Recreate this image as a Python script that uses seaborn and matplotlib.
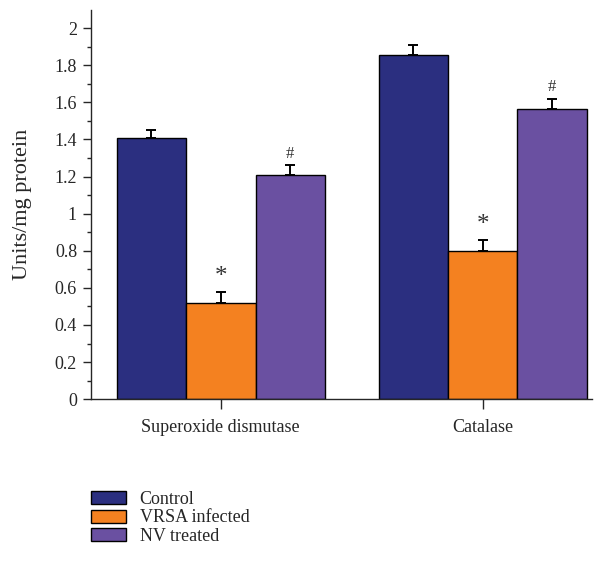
import matplotlib
matplotlib.use("Agg")
import matplotlib.pyplot as plt
import seaborn as sns
import pandas as pd
import numpy as np
from matplotlib.patches import Patch
from matplotlib.ticker import MultipleLocator

categories = ["Superoxide dismutase", "Catalase"]
groups = ["Control", "VRSA infected", "NV treated"]
control = [1.41, 1.855]
vrsa = [0.52, 0.80]
nv = [1.21, 1.565]
control_err = [0.04, 0.055]
vrsa_err = [0.06, 0.06]
nv_err = [0.05, 0.055]
marks = ["", "*", "#"]
colors = ["#2b2f80", "#f48120", "#6a50a1"]

rows = []
for g, vals, errs in zip(groups, [control, vrsa, nv], [control_err, vrsa_err, nv_err]):
    for c, v, e in zip(categories, vals, errs):
        rows.append({"cat": c, "group": g, "val": v, "err": e})
df = pd.DataFrame(rows)

sns.set_style("ticks")
plt.rcParams["font.family"] = ["Liberation Serif", "DejaVu Serif"]

fig = plt.figure(figsize=(6.1, 5.67), dpi=100)
ax = fig.add_axes([0.149, 0.296, 0.821, 0.686])

sns.barplot(data=df, x="cat", y="val", hue="group", order=categories, hue_order=groups,
            palette=colors, width=0.795, errorbar=None, edgecolor="black", linewidth=1,
            saturation=1, ax=ax, legend=False)

for gi, g in enumerate(groups):
    cont = ax.containers[gi]
    sub = df[df.group == g].set_index("cat").loc[categories]
    for bar, v, e in zip(cont.patches, sub.val, sub.err):
        xc = bar.get_x() + bar.get_width() / 2
        ax.errorbar(xc, v, yerr=[[0], [e]], fmt="none", ecolor="black", elinewidth=1.4,
                    capsize=3.5, capthick=1.4)
        if marks[gi]:
            fs = 18 if marks[gi] == "*" else 12
            ax.text(xc, v + e + 0.02, marks[gi], ha="center", va="bottom", fontsize=fs,
                    color="#333333")

ax.set_xlim(-0.496, 1.416)
ax.set_ylim(0, 2.097)
ax.yaxis.set_minor_locator(MultipleLocator(0.1))
ax.set_yticks(np.arange(0, 2.01, 0.2))
ax.set_yticklabels(["0", "0.2", "0.4", "0.6", "0.8", "1", "1.2", "1.4", "1.6", "1.8", "2"])
ax.tick_params(axis="y", which="major", length=6, width=1, labelsize=13, pad=4)
ax.tick_params(axis="y", which="minor", length=3, width=1)
ax.tick_params(axis="x", length=7, width=1, labelsize=13, pad=7)
ax.set_xlabel("")
ax.set_ylabel("Units/mg protein", fontsize=16)
ax.yaxis.set_label_coords(-0.118, 0.5)
sns.despine(ax=ax)
for s in ["left", "bottom"]:
    ax.spines[s].set_linewidth(1)

handles = [Patch(facecolor=c, edgecolor="black", linewidth=1) for c in colors]
fig.legend(handles, groups, loc="upper left", bbox_to_anchor=(91 / 610, 1 - 491 / 567),
           frameon=False, fontsize=13, handlelength=1.95, handleheight=0.72,
           labelspacing=0.08, handletextpad=0.75, borderaxespad=0, borderpad=0)

fig.savefig("out.png", dpi=100)
